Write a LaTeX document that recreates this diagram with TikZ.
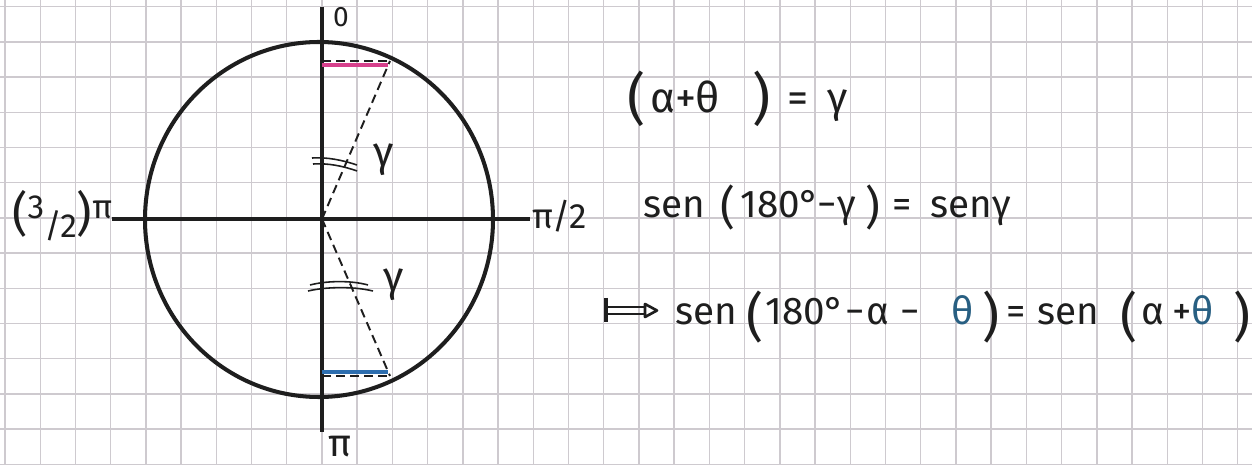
\documentclass[tikz,border=0pt]{standalone}
\usepackage{fontspec}
\setmainfont{Fira Sans}
\definecolor{gridc}{RGB}{206,202,207}
\definecolor{pen}{RGB}{30,30,30}
\definecolor{pinkc}{RGB}{214,64,140}
\definecolor{bluec}{RGB}{45,110,175}
\definecolor{thetac}{RGB}{40,95,130}
\newlength\pxu
\setlength\pxu{0.02cm}
\newcommand\tk[2]{\makebox[#1\pxu][l]{#2}}
\newcommand\hwp[3]{\raisebox{#2}{\fontsize{#1}{#1}\selectfont #3}}
\begin{document}
\begin{tikzpicture}[x=0.02cm,y=-0.02cm,
  gridline/.style={draw=gridc,line width=0.8pt},
  axis/.style={draw=pen,line width=1.9pt},
  curve/.style={draw=pen,line width=2.3pt},
  dashline/.style={draw=pen,line width=1.1pt,dash pattern=on 5pt off 3pt},
  tick/.style={draw=pen,line width=0.9pt},
  lbl/.style={text=pen,font=\fontsize{20}{24}\selectfont,inner sep=0pt},
  greek/.style={text=pen,font=\fontsize{24}{28}\selectfont,inner sep=0pt},
  eq/.style={text=pen,inner sep=0pt,anchor=base west}]
\useasboundingbox (0,0) rectangle (1252,465);
\fill[white] (0,0) rectangle (1252,465);
\foreach \k in {0,...,35} \draw[gridline] ({5+35.22*\k},0) -- ({5+35.22*\k},465);
\foreach \k in {0,...,13} \draw[gridline] (0,{6.7+35.2*\k}) -- (1252,{6.7+35.2*\k});
% key points
\coordinate (O) at (322,219);
\coordinate (vtop) at (322,7);
\coordinate (vbot) at (322,432);
\coordinate (hl) at (112,219);
\coordinate (hr) at (530,219);
\coordinate (P) at (390,61);
\coordinate (Q) at (390,376);
\coordinate (Pa) at (322,61);
\coordinate (Qa) at (322,376);
% circle and axes
\draw[curve] (319,219.5) ellipse [x radius=174, y radius=177.5];
\draw[axis] (vtop) -- (vbot);
\draw[axis] (hl) -- (hr);
% coloured segments
\draw[pinkc,line width=2.6pt] (322,65) -- (388,65);
\draw[bluec,line width=2.6pt] (322,372) -- (388,372);
\draw[dashline] (Pa) -- (P);
\draw[dashline] (Qa) -- (Q);
\draw[dashline] (O) -- (P);
\draw[dashline] (O) -- (Q);
% angle marks
\draw[tick] (312,158) .. controls (327,157) and (342,160) .. (357,165);
\draw[tick] (313,164) .. controls (328,163) and (343,166) .. (357,171);
\draw[tick] (310,285) .. controls (325,281) and (350,280) .. (368,285);
\draw[tick] (308,291) .. controls (325,287) and (352,286) .. (373,291);
% labels
\node[lbl,font=\fontsize{16}{18}\selectfont] (zero) at (341,17) {0};
\node[greek,anchor=base,font=\fontsize{22}{26}\selectfont] (pib) at (340,457) {π};
\node[lbl,anchor=base west] (pihalf) at (532,229) {π/2};
\node[lbl,anchor=base west,font=\fontsize{19}{22}\selectfont] (threehalf) at (12,238)
  {\hwp{27}{4pt}{(}\raisebox{11pt}{3}/2\hwp{27}{4pt}{)}\raisebox{11pt}{π}};
\node[greek] (g1) at (384,160) {γ};
\node[greek] (g2) at (394,285) {γ};
% equations
\node[eq,font=\fontsize{24}{28}\selectfont] (e1) at (627,113)
  {\tk{23}{\hwp{32}{-3pt}{(}}\tk{25}{α}\tk{20}{+}\tk{57}{θ}\tk{35}{\hwp{32}{-3pt}{)}}\tk{40}{=}γ};
\node[eq,font=\fontsize{22}{26}\selectfont] (e2) at (643,218)
  {\tk{77}{sen}\tk{20}{\hwp{26}{-3.4pt}{(}}\tk{77}{180°}\tk{20}{−}\tk{28}{γ}\tk{27}{\hwp{26}{-3.4pt}{)}}\tk{38}{=}\tk{62}{sen}γ};
\draw[pen,line width=2pt] (606,298) -- (606,322);
\draw[pen,line width=1.5pt] (606,307) -- (645,307) (606,314) -- (645,314);
\draw[pen,line width=1.5pt,line join=round] (645,304) -- (657,310.5) -- (645,317) -- cycle;
\node[eq,font=\fontsize{22}{26}\selectfont] (e3) at (675,325)
  {\tk{71}{sen}\tk{19}{\hwp{30}{-6pt}{(}}\tk{80}{180°}\tk{21}{−}\tk{34}{α}\tk{51}{−}\tk{31}{\color{thetac}θ}\tk{24}{\hwp{30}{-6pt}{)}}\tk{31}{=}\tk{83}{sen}\tk{21}{\hwp{30}{-6pt}{(}}\tk{31}{α}\tk{19}{+}\tk{42}{\color{thetac}θ}\hwp{30}{-6pt}{)}};
\end{tikzpicture}
\end{document}
